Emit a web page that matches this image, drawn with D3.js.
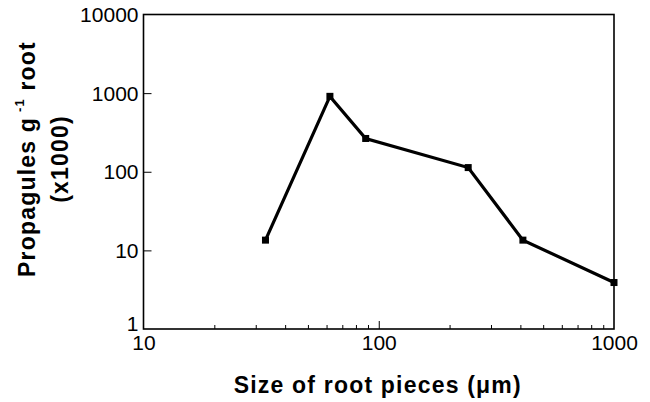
<!DOCTYPE html>
<html>
<head>
<meta charset="utf-8">
<script src="https://cdn.jsdelivr.net/npm/d3@7"></script>
<style>
  body { margin: 0; background: #fff; }
  svg { display: block; }
  .tick text { font-family: "Liberation Sans", Arial, sans-serif; }
</style>
</head>
<body>
<div id="chart"></div>
<script>
var w = 650;
var h = 402;

// values
var sizes = [33, 62, 88, 240, 410, 1000];
var propagules = [13.5, 910, 265, 113, 13.5, 3.9];
var xTicks = [10, 100, 1000];
var yTicks = [1, 10, 100, 1000, 10000];

var margin = {top: 14.5, right: 36, bottom: 73, left: 143.5};
var pw = w - margin.left - margin.right;
var ph = h - margin.top - margin.bottom;

var svg = d3.select("#chart")
            .append("svg")
                .attr("width", w)
                .attr("height", h);

var g = svg.append("g")
    .attr("transform", "translate(" + margin.left + "," + margin.top + ")");

var x = d3.scaleLog().domain([10, 1000]).range([0, pw]);
var y = d3.scaleLog().domain([1, 10000]).range([ph, 0]);

// minor ticks on the x axis
var xMinor = [];
[10, 100].forEach(function(d) {
    for (var k = 2; k < 10; k++) xMinor.push(d * k);
});

g.append("g")
    .attr("transform", "translate(0," + ph + ")")
    .call(d3.axisBottom(x).tickValues(xMinor).tickSize(-4).tickFormat(""))
    .call(function(s) { s.select(".domain").remove(); });

var xAxis = g.append("g")
    .attr("transform", "translate(0," + ph + ")")
    .call(d3.axisBottom(x).tickValues(xTicks).tickSize(-8).tickPadding(0)
        .tickFormat(d3.format("d")));
xAxis.select(".domain").remove();
xAxis.selectAll(".tick text")
    .attr("y", 6)
    .attr("font-size", 21);
xAxis.selectAll(".tick").filter(function(d) { return d === 10 || d === 1000; })
    .select("line").remove();

var yAxis = g.append("g")
    .call(d3.axisLeft(y).tickValues(yTicks).tickSize(-8).tickPadding(5)
        .tickFormat(d3.format("d")));
yAxis.select(".domain").remove();
yAxis.selectAll(".tick text")
    .attr("font-size", 21)
    .attr("dy", "0.34em");
yAxis.selectAll(".tick").filter(function(d) { return d === 1; })
    .select("text").attr("dy", "0.05em");
yAxis.selectAll(".tick").filter(function(d) { return d === 1 || d === 10000; })
    .select("line").remove();

// frame
g.append("rect")
    .attr("width", pw)
    .attr("height", ph)
    .attr("fill", "none")
    .attr("stroke", "#000")
    .attr("stroke-width", 1.6);

var data = sizes.map(function(s, i) { return {s: s, v: propagules[i]}; });

var line = d3.line()
    .x(function(d) { return x(d.s); })
    .y(function(d) { return y(d.v); });

g.append("path")
    .datum(data)
    .attr("fill", "none")
    .attr("stroke", "#000")
    .attr("stroke-width", 3.2)
    .attr("stroke-linejoin", "miter")
    .attr("d", line);

g.selectAll("rect.pt")
    .data(data)
    .enter()
        .append("rect")
        .attr("class", "pt")
        .attr("x", function(d) { return x(d.s) - 3.5; })
        .attr("y", function(d) { return y(d.v) - 3.5; })
        .attr("width", 7)
        .attr("height", 7)
        .attr("fill", "#000");

// axis titles
svg.append("text")
    .attr("x", margin.left + pw / 2 - 1)
    .attr("y", 393)
    .attr("text-anchor", "middle")
    .attr("font-family", "Liberation Sans, Arial, sans-serif")
    .attr("font-weight", "bold")
    .attr("font-size", 23)
    .attr("letter-spacing", 1.2)
    .text("Size of root pieces (\u03bcm)");

var yt = svg.append("text")
    .attr("transform", "translate(35,159) rotate(-90)")
    .attr("text-anchor", "middle")
    .attr("font-family", "Liberation Sans, Arial, sans-serif")
    .attr("font-weight", "bold")
    .attr("font-size", 23)
    .attr("letter-spacing", 1.2);
yt.append("tspan").text("Propagules g");
yt.append("tspan").attr("font-size", 13).attr("dy", -11).text(" -1");
yt.append("tspan").attr("dy", 11).text(" root");

svg.append("text")
    .attr("transform", "translate(68,159) rotate(-90)")
    .attr("text-anchor", "middle")
    .attr("font-family", "Liberation Sans, Arial, sans-serif")
    .attr("font-weight", "bold")
    .attr("font-size", 23)
    .attr("letter-spacing", 1.2)
    .text("(x1000)");
</script>
</body>
</html>
